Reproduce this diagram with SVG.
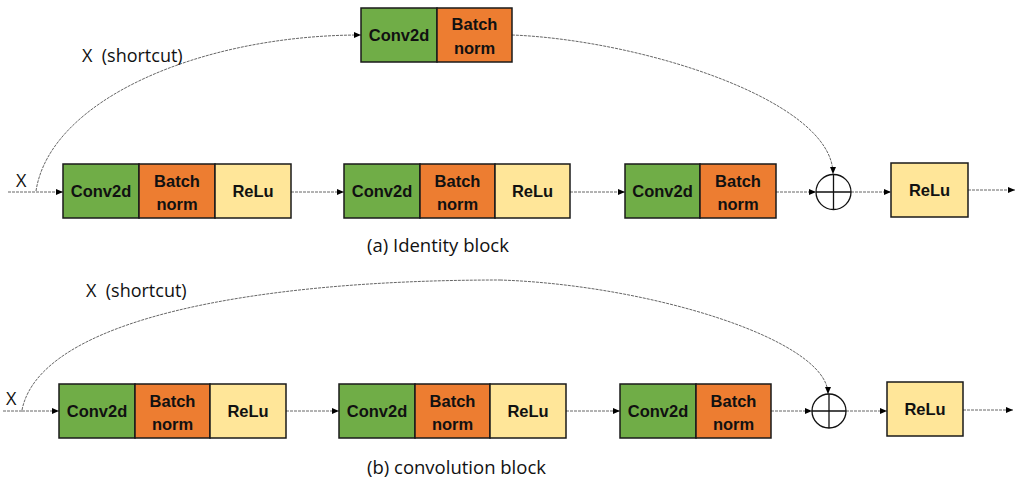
<svg xmlns="http://www.w3.org/2000/svg" width="1017" height="487" viewBox="0 0 1017 487">
<defs>
<marker id="ah" markerWidth="8" markerHeight="8" refX="7" refY="4" orient="auto" markerUnits="userSpaceOnUse">
<path d="M0,1 L7,4 L0,7 Z" fill="#000"/>
</marker>
<style>
.g{fill:#70AD47;stroke:#1a1a1a;stroke-width:1.5}
.o{fill:#ED7D31;stroke:#1a1a1a;stroke-width:1.5}
.y{fill:#FFE699;stroke:#1a1a1a;stroke-width:1.5}
.bt{font-family:"Liberation Sans",Arial,sans-serif;font-weight:bold;font-size:16.5px;fill:#111;text-anchor:middle}
.lb{font-family:"Open Sans","Liberation Sans",sans-serif;font-size:18px;fill:#111}
.cap{font-family:"Open Sans","Liberation Sans",sans-serif;font-size:18.5px;fill:#111}
.c{fill:none;stroke:#666;stroke-width:1;stroke-dasharray:3 1}
.ca{fill:none;stroke:#666;stroke-width:1;stroke-dasharray:3 1;marker-end:url(#ah)}
.sum{fill:#fff;stroke:#111;stroke-width:1.3}
</style>
</defs>
<rect width="1017" height="487" fill="#fff"/>

<g id="connectors">
<path class="c" d="M8,192 L36,192"/>
<path class="ca" d="M36,192 L63,192"/>
<path class="ca" d="M36,191 C50,100 200,35 361,35"/>
<path class="ca" d="M512,35 C640,40 833,100 833,174"/>
<path class="ca" d="M291,192 L344,192"/>
<path class="ca" d="M570,192 L625,192"/>
<path class="ca" d="M776,192 L816,192"/>
<path class="ca" d="M851,192 L891,192"/>
<path class="ca" d="M968,190 L1015,190"/>

<path class="c" d="M3,411 L22,411"/>
<path class="ca" d="M22,411 L59,411"/>
<path class="c" d="M22,410 C40,320 250,280 500,280"/>
<path class="ca" d="M500,280 C650,285 828,340 828,394"/>
<path class="ca" d="M286,411 L339,411"/>
<path class="ca" d="M566,411 L620,411"/>
<path class="ca" d="M771,411 L812,411"/>
<path class="ca" d="M846,411 L887,411"/>
<path class="ca" d="M963,410 L1013,410"/>
</g>

<g id="labels">
<text class="lb" x="16" y="187">X</text>
<text class="lb" x="82" y="62" xml:space="preserve">X  (shortcut)</text>
<text class="cap" x="367" y="252">(a) Identity block</text>
<text class="lb" x="6" y="405">X</text>
<text class="lb" x="86" y="297" xml:space="preserve">X  (shortcut)</text>
<text class="cap" x="367" y="474">(b) convolution block</text>
</g>

<g id="a-shortcut-block">
<rect class="g" x="361" y="8" width="76" height="54"/>
<rect class="o" x="437" y="8" width="75" height="54"/>
<text class="bt" x="399" y="41">Conv2d</text>
<text class="bt" x="474.5" y="30">Batch</text>
<text class="bt" x="474.5" y="54">norm</text>
</g>

<g id="a-block1">
<rect class="g" x="63" y="164" width="76" height="54"/>
<rect class="o" x="139" y="164" width="76" height="54"/>
<rect class="y" x="215" y="164" width="76" height="54"/>
<text class="bt" x="101" y="197">Conv2d</text>
<text class="bt" x="177" y="187">Batch</text>
<text class="bt" x="177" y="210">norm</text>
<text class="bt" x="253" y="197">ReLu</text>
</g>

<g id="a-block2">
<rect class="g" x="344" y="164" width="76" height="54"/>
<rect class="o" x="420" y="164" width="75" height="54"/>
<rect class="y" x="495" y="164" width="75" height="54"/>
<text class="bt" x="382" y="197">Conv2d</text>
<text class="bt" x="457.5" y="187">Batch</text>
<text class="bt" x="457.5" y="210">norm</text>
<text class="bt" x="532.5" y="197">ReLu</text>
</g>

<g id="a-block3">
<rect class="g" x="625" y="164" width="75" height="54"/>
<rect class="o" x="700" y="164" width="76" height="54"/>
<text class="bt" x="662.5" y="197">Conv2d</text>
<text class="bt" x="738" y="187">Batch</text>
<text class="bt" x="738" y="210">norm</text>
</g>

<g id="a-sum">
<circle class="sum" cx="833.5" cy="192" r="17.5"/>
<path d="M833.5,174.5 V209.5 M816,192 H851" stroke="#111" stroke-width="1.3"/>
</g>

<g id="a-relu">
<rect class="y" x="891" y="163" width="77" height="54"/>
<text class="bt" x="929.5" y="196">ReLu</text>
</g>

<g id="b-block1">
<rect class="g" x="59" y="384" width="76" height="54"/>
<rect class="o" x="135" y="384" width="75" height="54"/>
<rect class="y" x="210" y="384" width="76" height="54"/>
<text class="bt" x="97" y="417">Conv2d</text>
<text class="bt" x="172.5" y="407">Batch</text>
<text class="bt" x="172.5" y="430">norm</text>
<text class="bt" x="248" y="417">ReLu</text>
</g>

<g id="b-block2">
<rect class="g" x="339" y="384" width="76" height="54"/>
<rect class="o" x="415" y="384" width="75" height="54"/>
<rect class="y" x="490" y="384" width="76" height="54"/>
<text class="bt" x="377" y="417">Conv2d</text>
<text class="bt" x="452.5" y="407">Batch</text>
<text class="bt" x="452.5" y="430">norm</text>
<text class="bt" x="528" y="417">ReLu</text>
</g>

<g id="b-block3">
<rect class="g" x="620" y="384" width="76" height="54"/>
<rect class="o" x="696" y="384" width="75" height="54"/>
<text class="bt" x="658" y="417">Conv2d</text>
<text class="bt" x="733.5" y="407">Batch</text>
<text class="bt" x="733.5" y="430">norm</text>
</g>

<g id="b-sum">
<circle class="sum" cx="829" cy="411" r="17"/>
<path d="M829,394 V428 M812,411 H846" stroke="#111" stroke-width="1.3"/>
</g>

<g id="b-relu">
<rect class="y" x="887" y="382" width="76" height="54"/>
<text class="bt" x="925" y="415">ReLu</text>
</g>
</svg>
